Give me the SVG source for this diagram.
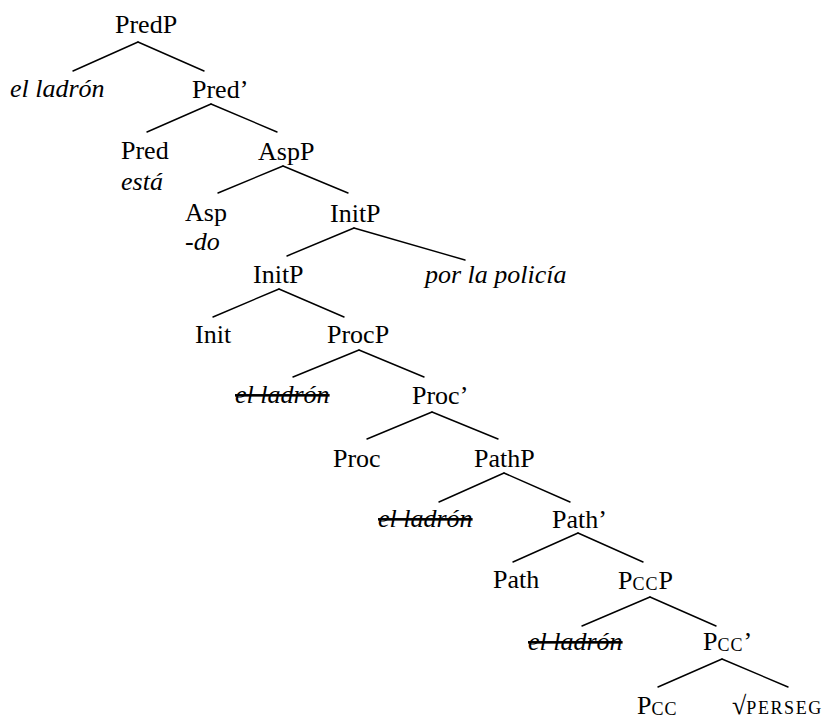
<svg xmlns="http://www.w3.org/2000/svg" width="824" height="715" viewBox="0 0 824 715">
<style>
text{font-family:"Liberation Serif","Times New Roman",serif;font-size:26px;fill:#000}
.i{font-style:italic}
.s{text-decoration:line-through}
.sc{font-size:18px}
#edges line{stroke:#000;stroke-width:1.4;stroke-linecap:round}
</style>
<rect width="824" height="715" fill="#fff"/>
<g id="edges">
<line x1="138" y1="42" x2="73" y2="71"/><line x1="138" y1="42" x2="204" y2="71"/>
<line x1="211" y1="104" x2="147" y2="132"/><line x1="211" y1="104" x2="277" y2="132"/>
<line x1="283" y1="166" x2="218" y2="193"/><line x1="283" y1="166" x2="348" y2="193"/>
<line x1="354" y1="228" x2="287" y2="256"/><line x1="354" y1="228" x2="465" y2="260"/>
<line x1="279" y1="289" x2="213" y2="317"/><line x1="279" y1="289" x2="344" y2="317"/>
<line x1="359" y1="350" x2="293" y2="377"/><line x1="359" y1="350" x2="424" y2="377"/>
<line x1="432" y1="412" x2="367" y2="439"/><line x1="432" y1="412" x2="498" y2="439"/>
<line x1="504" y1="473" x2="439" y2="502"/><line x1="504" y1="473" x2="570" y2="502"/>
<line x1="578" y1="533" x2="513" y2="562"/><line x1="578" y1="533" x2="643" y2="562"/>
<line x1="650" y1="597" x2="582" y2="626"/><line x1="650" y1="597" x2="716" y2="626"/>
<line x1="722" y1="659" x2="658" y2="687"/><line x1="722" y1="659" x2="788" y2="687"/>
</g>
<g id="n-predp"><text x="115" y="33">PredP</text></g>
<g id="n-ladron1"><text class="i" x="10" y="97">el ladrón</text></g>
<g id="n-predbar"><text x="192" y="98">Pred’</text></g>
<g id="n-pred"><text x="121" y="159">Pred</text><text class="i" x="121" y="190">está</text></g>
<g id="n-aspp"><text x="258" y="160">AspP</text></g>
<g id="n-asp"><text x="185" y="221">Asp</text><text class="i" x="185" y="250">-do</text></g>
<g id="n-initp1"><text x="330" y="222">InitP</text></g>
<g id="n-initp2"><text x="253" y="283">InitP</text></g>
<g id="n-policia"><text class="i" x="425" y="283">por la policía</text></g>
<g id="n-init"><text x="195" y="343">Init</text></g>
<g id="n-procp"><text x="327" y="343">ProcP</text></g>
<g id="n-ladron2"><text class="i s" x="235" y="403">el ladrón</text></g>
<g id="n-procbar"><text x="412" y="404">Proc’</text></g>
<g id="n-proc"><text x="333" y="467">Proc</text></g>
<g id="n-pathp"><text x="474" y="467">PathP</text></g>
<g id="n-ladron3"><text class="i s" x="378" y="527">el ladrón</text></g>
<g id="n-pathbar"><text x="552" y="528">Path’</text></g>
<g id="n-path"><text x="493" y="588">Path</text></g>
<g id="n-pccp"><text x="618" y="589">P<tspan class="sc" dy="1" letter-spacing="1">CC</tspan><tspan dy="-1">P</tspan></text></g>
<g id="n-ladron4"><text class="i s" x="528" y="650">el ladrón</text></g>
<g id="n-pccbar"><text x="703" y="650">P<tspan class="sc" dy="1" letter-spacing="1">CC</tspan><tspan dy="-1">’</tspan></text></g>
<g id="n-pcc"><text x="637" y="714">P<tspan class="sc" dy="1" letter-spacing="1">CC</tspan></text></g>
<g id="n-root"><text x="732" y="714">√<tspan class="sc" letter-spacing="1.6">PERSEG</tspan></text></g>
</svg>
